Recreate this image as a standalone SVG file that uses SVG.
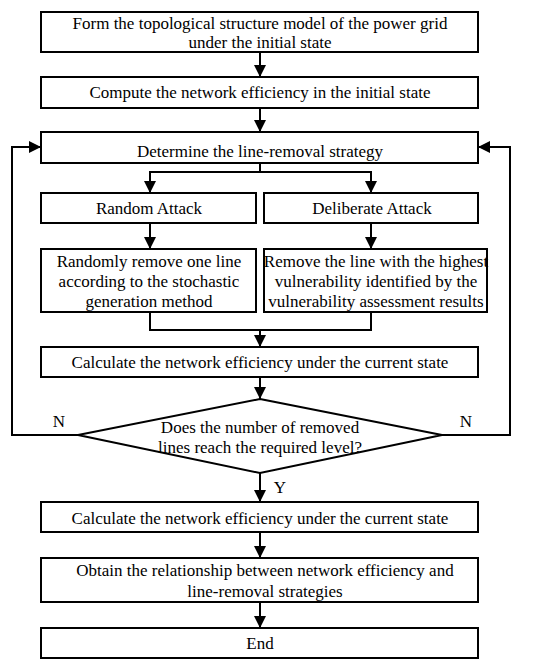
<svg xmlns="http://www.w3.org/2000/svg" width="550" height="671" viewBox="0 0 550 671">
<defs>
<marker id="ah" viewBox="0 0 10 12" refX="12" refY="6" markerWidth="12" markerHeight="12" markerUnits="userSpaceOnUse" orient="auto">
<path d="M0,0 L12,6 L0,12 Z" fill="#000"/>
</marker>
<style>
.b{fill:#fff;stroke:#000;stroke-width:2}
.t{font-family:"Liberation Serif","Times New Roman",serif;font-size:17px;text-anchor:middle;fill:#000}
.c{fill:none;stroke:#000;stroke-width:2}
.a{marker-end:url(#ah)}
</style>
</defs>
<rect width="550" height="671" fill="#fff"/>
<g id="connectors">
<line class="c a" x1="260" y1="52" x2="260" y2="77"/>
<line class="c a" x1="260" y1="108" x2="260" y2="132"/>
<polyline class="c" points="260,163 260,172 150,172 150,182"/>
<polyline class="c" points="260,172 371,172 371,182"/>
<line class="c a" x1="150" y1="172" x2="150" y2="193"/>
<line class="c a" x1="371" y1="172" x2="371" y2="193"/>
<line class="c a" x1="150" y1="223" x2="150" y2="249"/>
<line class="c a" x1="371" y1="223" x2="371" y2="249"/>
<polyline class="c" points="150,312 150,330 371,330 371,312"/>
<line class="c a" x1="260" y1="330" x2="260" y2="347"/>
<line class="c a" x1="260" y1="377" x2="260" y2="399"/>
<polyline class="c a" points="78,435 12,435 12,147 41,147"/>
<polyline class="c a" points="442,435 510,435 510,147 478,147"/>
<line class="c a" x1="260" y1="473" x2="260" y2="502"/>
<line class="c a" x1="260" y1="532" x2="260" y2="558"/>
<line class="c a" x1="260" y1="602" x2="260" y2="628"/>
<text class="t" x="59" y="427">N</text>
<text class="t" x="466" y="427">N</text>
<text class="t" x="280" y="493">Y</text>
</g>
<g id="n1"><rect class="b" x="41" y="12" width="437" height="40"/>
<text class="t" x="260" y="29">Form the topological structure model of the power grid</text>
<text class="t" x="260" y="48">under the initial state</text></g>
<g id="n2"><rect class="b" x="41" y="77" width="437" height="31"/>
<text class="t" x="260" y="98">Compute the network efficiency in the initial state</text></g>
<g id="n3"><rect class="b" x="41" y="132" width="437" height="31"/>
<text class="t" x="260" y="157">Determine the line-removal strategy</text></g>
<g id="n4"><rect class="b" x="41" y="193" width="215" height="30"/>
<text class="t" x="149" y="214">Random Attack</text></g>
<g id="n5"><rect class="b" x="264" y="193" width="214" height="30"/>
<text class="t" x="372" y="214">Deliberate Attack</text></g>
<g id="n6"><rect class="b" x="41" y="249" width="215" height="63"/>
<text class="t" x="149" y="267">Randomly remove one line</text>
<text class="t" x="149" y="287">according to the stochastic</text>
<text class="t" x="149" y="307">generation method</text></g>
<g id="n7"><rect class="b" x="264" y="249" width="223" height="63"/>
<text class="t" x="376" y="267">Remove the line with the highest</text>
<text class="t" x="376" y="287">vulnerability identified by the</text>
<text class="t" x="376" y="307">vulnerability assessment results</text></g>
<g id="n8"><rect class="b" x="41" y="347" width="437" height="30"/>
<text class="t" x="260" y="368">Calculate the network efficiency under the current state</text></g>
<g id="n9"><polygon class="b" points="260,399 442,435 260,473 78,435"/>
<text class="t" x="260" y="433">Does the number of removed</text>
<text class="t" x="260" y="453">lines reach the required level?</text></g>
<g id="n10"><rect class="b" x="41" y="502" width="437" height="30"/>
<text class="t" x="260" y="524">Calculate the network efficiency under the current state</text></g>
<g id="n11"><rect class="b" x="41" y="558" width="437" height="44"/>
<text class="t" x="265" y="576">Obtain the relationship between network efficiency and</text>
<text class="t" x="265" y="597">line-removal strategies</text></g>
<g id="n12"><rect class="b" x="41" y="628" width="437" height="30"/>
<text class="t" x="260" y="649">End</text></g>
</svg>
